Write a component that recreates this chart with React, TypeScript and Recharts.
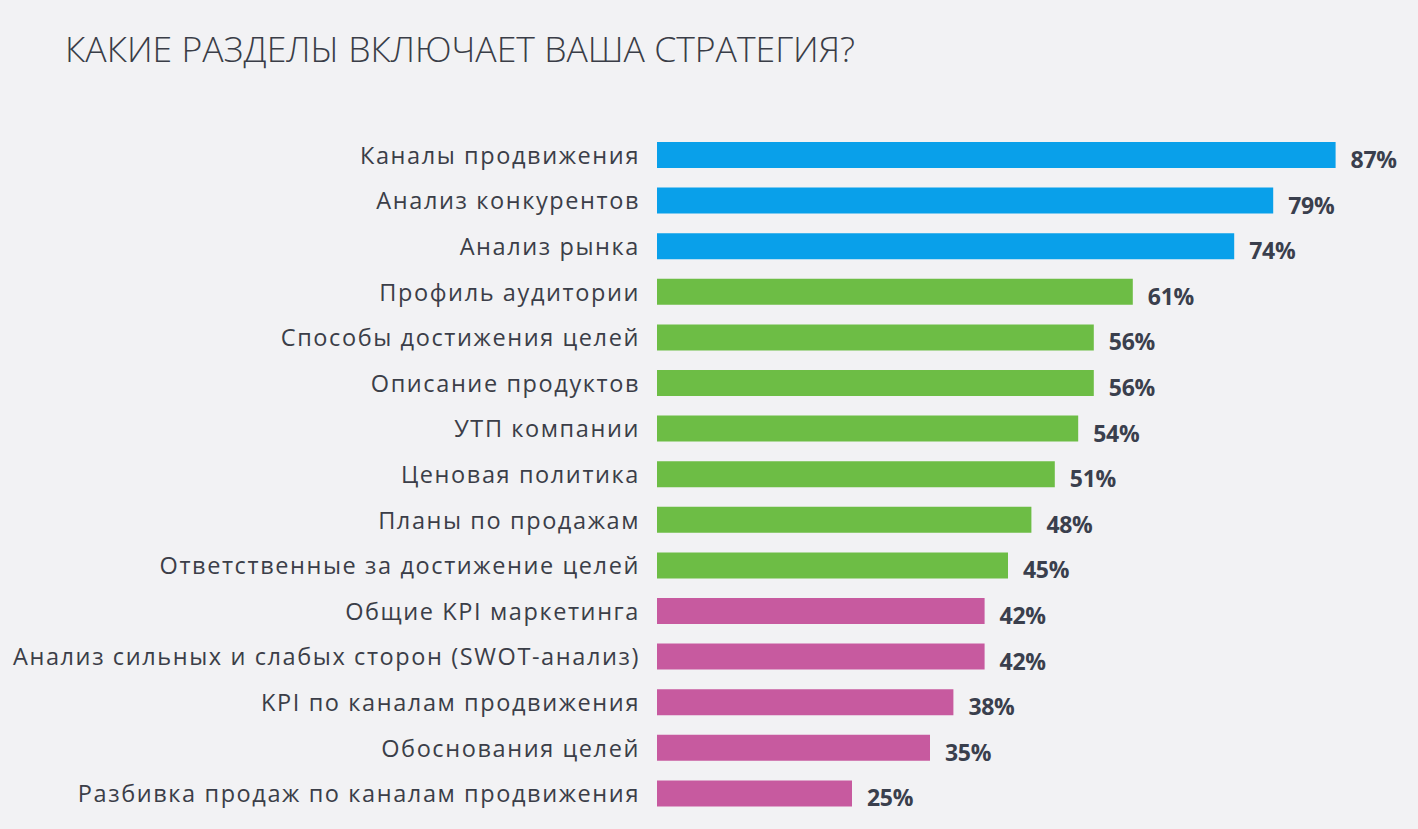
import React from 'react';
import { BarChart, Bar, XAxis, YAxis, Cell, LabelList } from 'recharts';

const categories = [
  'Каналы продвижения',
  'Анализ конкурентов',
  'Анализ рынка',
  'Профиль аудитории',
  'Способы достижения целей',
  'Описание продуктов',
  'УТП компании',
  'Ценовая политика',
  'Планы по продажам',
  'Ответственные за достижение целей',
  'Общие KPI маркетинга',
  'Анализ сильных и слабых сторон (SWOT-анализ)',
  'KPI по каналам продвижения',
  'Обоснования целей',
  'Разбивка продаж по каналам продвижения',
];
const values = [87, 79, 74, 61, 56, 56, 54, 51, 48, 45, 42, 42, 38, 35, 25];
const groups = ['top', 'top', 'top', 'mid', 'mid', 'mid', 'mid', 'mid', 'mid', 'mid', 'low', 'low', 'low', 'low', 'low'];
const title = 'КАКИЕ РАЗДЕЛЫ ВКЛЮЧАЕТ ВАША СТРАТЕГИЯ?';

const groupColors: Record<string, string> = { top: '#09a0ea', mid: '#6dbd45', low: '#c75a9f' };

const data = categories.map((name, i) => ({ name, value: values[i], group: groups[i] }));

const FONT = '"Open Sans", "DejaVu Sans", sans-serif';

const CategoryTick = (props: any) => {
  const { x, y, payload } = props;
  return (
    <text x={x} y={y} textAnchor="end" dominantBaseline="central" fill="#3b3e48" fontFamily={FONT} fontSize={23.5} fontWeight={400} letterSpacing={1.6}>
      {payload.value}
    </text>
  );
};

const ValueLabel = (props: any) => {
  const { x, y, width, height, value } = props;
  return (
    <text x={x + width + 15} y={y + height / 2 + 4} dominantBaseline="central" fill="#3a3f4d" fontFamily={FONT} fontSize={23} fontWeight={700} letterSpacing={-0.3}>
      {value}%
    </text>
  );
};

export default function App() {
  return (
    <div style={{ position: 'absolute', left: 0, top: 0, width: 1418, height: 829, background: '#f2f2f4', overflow: 'hidden' }}>
      <svg width={1418} height={100} style={{ position: 'absolute', left: 0, top: 0 }}>
        <text x={65} y={62} fill="#3a3d47" fontFamily={FONT} fontSize={35} fontWeight={300} textLength={790} lengthAdjust="spacingAndGlyphs">
          {title}
        </text>
      </svg>
      <div style={{ position: 'absolute', left: 0, top: 0 }}>
        <BarChart width={1418} height={829} data={data} layout="vertical" margin={{ top: 132, right: 59, bottom: 13, left: 0 }} barSize={26}>
          <XAxis type="number" domain={[0, 90]} hide />
          <YAxis type="category" dataKey="name" width={657} tickLine={false} axisLine={false} tickSize={0} tickMargin={17} tick={<CategoryTick />} interval={0} />
          <Bar dataKey="value" isAnimationActive={false}>
            {data.map((d, i) => (
              <Cell key={i} fill={groupColors[d.group]} />
            ))}
            <LabelList dataKey="value" content={<ValueLabel />} />
          </Bar>
        </BarChart>
      </div>
    </div>
  );
}
